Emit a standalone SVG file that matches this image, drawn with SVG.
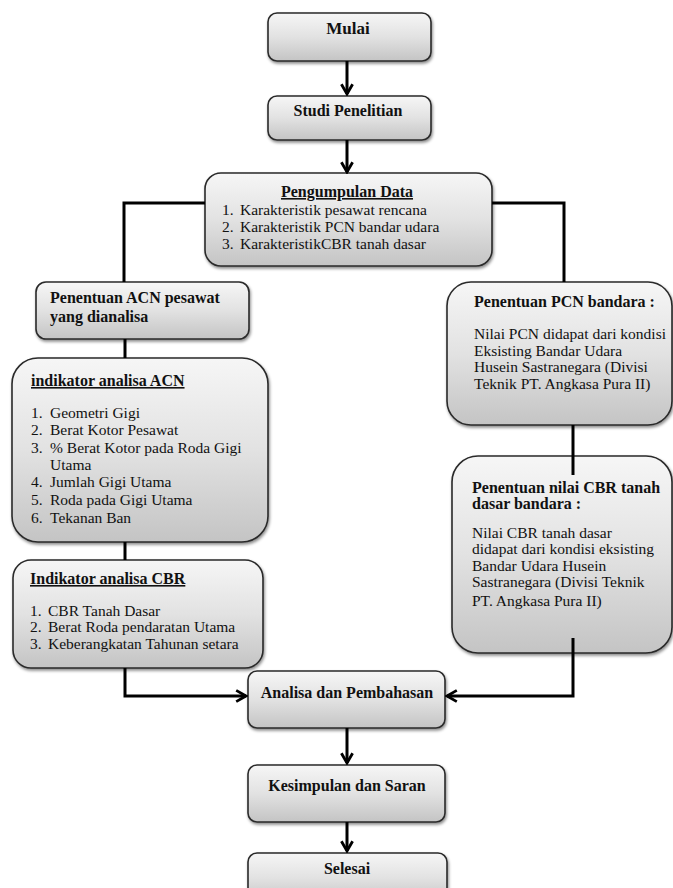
<svg xmlns="http://www.w3.org/2000/svg" width="673" height="888" viewBox="0 0 673 888">
<defs>
<linearGradient id="g" x1="0" y1="0" x2="0" y2="1">
<stop offset="0" stop-color="#f6f6f6"/>
<stop offset="0.5" stop-color="#e2e2e2"/>
<stop offset="1" stop-color="#c4c4c4"/>
</linearGradient>
<filter id="sh" x="-10%" y="-10%" width="120%" height="130%">
<feDropShadow dx="1" dy="2" stdDeviation="1.5" flood-color="#000" flood-opacity="0.45"/>
</filter>
<marker id="ah" viewBox="0 0 10 10" refX="8.5" refY="5" markerWidth="14" markerHeight="14" markerUnits="userSpaceOnUse" orient="auto">
<path d="M1.5,1 L8.5,5 L1.5,9" fill="none" stroke="#000" stroke-width="2"/>
</marker>
</defs>
<style>
.box{fill:url(#g);stroke:#2a2a2a;stroke-width:1.6;filter:url(#sh)}
.t{font-family:"Liberation Serif","Times New Roman",serif;font-size:15.5px;fill:#111}
.b{font-weight:bold;font-size:16px}
.c{text-anchor:middle}
.u{text-decoration:underline}
.ln{fill:none;stroke:#000;stroke-width:3}
</style>

<g id="mulai">
<rect class="box" x="268" y="13" width="163" height="48" rx="9"/>
<text class="t b c" x="348" y="34" style="font-size:17px">Mulai</text>
</g>
<g id="studi">
<rect class="box" x="268" y="96" width="163" height="44" rx="9"/>
<text class="t b c" x="348" y="116">Studi Penelitian</text>
</g>
<g id="pengumpulan">
<rect class="box" x="205" y="173" width="287" height="93" rx="16"/>
<text class="t b c u" x="347" y="197">Pengumpulan Data</text>
<text class="t" x="222" y="215">1.</text><text class="t" x="240" y="215">Karakteristik pesawat rencana</text>
<text class="t" x="222" y="232">2.</text><text class="t" x="240" y="232">Karakteristik PCN bandar udara</text>
<text class="t" x="222" y="249">3.</text><text class="t" x="240" y="249">KarakteristikCBR tanah dasar</text>
</g>
<g id="acn">
<rect class="box" x="36" y="282" width="213" height="57" rx="10"/>
<text class="t b" x="50" y="303">Penentuan ACN pesawat</text>
<text class="t b" x="50" y="322">yang dianalisa</text>
</g>
<g id="indikator-acn">
<rect class="box" x="12" y="358" width="256" height="184" rx="26"/>
<text class="t b u" x="31" y="386">indikator analisa ACN</text>
<text class="t" x="31" y="418">1.</text><text class="t" x="50" y="418">Geometri Gigi</text>
<text class="t" x="31" y="435">2.</text><text class="t" x="50" y="435">Berat Kotor Pesawat</text>
<text class="t" x="31" y="453">3.</text><text class="t" x="50" y="453">% Berat Kotor pada Roda Gigi</text>
<text class="t" x="50" y="470">Utama</text>
<text class="t" x="31" y="487">4.</text><text class="t" x="50" y="487">Jumlah Gigi Utama</text>
<text class="t" x="31" y="505">5.</text><text class="t" x="50" y="505">Roda pada Gigi Utama</text>
<text class="t" x="31" y="523">6.</text><text class="t" x="50" y="523">Tekanan Ban</text>
</g>
<g id="indikator-cbr">
<rect class="box" x="13" y="560" width="250" height="108" rx="18"/>
<text class="t b u" x="30" y="584">Indikator analisa CBR</text>
<text class="t" x="30" y="616">1.</text><text class="t" x="48" y="616">CBR Tanah Dasar</text>
<text class="t" x="30" y="632">2.</text><text class="t" x="48" y="632">Berat Roda pendaratan Utama</text>
<text class="t" x="30" y="649">3.</text><text class="t" x="48" y="649">Keberangkatan Tahunan setara</text>
</g>
<g id="pcn">
<rect class="box" x="447" y="282" width="225" height="143" rx="24"/>
<text class="t b" x="474" y="307">Penentuan PCN bandara :</text>
<text class="t" x="474" y="339">Nilai PCN didapat dari kondisi</text>
<text class="t" x="474" y="356">Eksisting Bandar Udara</text>
<text class="t" x="474" y="372">Husein Sastranegara (Divisi</text>
<text class="t" x="474" y="389">Teknik PT. Angkasa Pura II)</text>
</g>
<g id="cbr-bandara">
<rect class="box" x="452" y="456" width="220" height="197" rx="26"/>
<text class="t b" x="472" y="493">Penentuan nilai CBR tanah</text>
<text class="t b" x="472" y="509">dasar bandara :</text>
<text class="t" x="472" y="538">Nilai CBR tanah dasar</text>
<text class="t" x="472" y="554">didapat dari kondisi eksisting</text>
<text class="t" x="472" y="571">Bandar Udara Husein</text>
<text class="t" x="472" y="587">Sastranegara (Divisi Teknik</text>
<text class="t" x="472" y="606">PT. Angkasa Pura II)</text>
</g>
<g id="analisa">
<rect class="box" x="248" y="671" width="197" height="57" rx="9"/>
<text class="t b c" x="347" y="698">Analisa dan Pembahasan</text>
</g>
<g id="kesimpulan">
<rect class="box" x="248" y="765" width="197" height="57" rx="9"/>
<text class="t b c" x="347" y="791">Kesimpulan dan Saran</text>
</g>
<g id="selesai">
<rect class="box" x="248" y="853" width="199" height="50" rx="9"/>
<text class="t b c" x="347" y="874">Selesai</text>
</g>

<g id="connectors">
<line class="ln" x1="347" y1="61" x2="347" y2="94" marker-end="url(#ah)"/>
<line class="ln" x1="347" y1="140" x2="347" y2="172" marker-end="url(#ah)"/>
<polyline class="ln" points="205,203 124,203 124,282"/>
<polyline class="ln" points="492,203 564,203 564,282"/>
<line class="ln" x1="125" y1="339" x2="125" y2="358"/>
<line class="ln" x1="125" y1="542" x2="125" y2="560"/>
<line class="ln" x1="573" y1="425" x2="573" y2="475"/>
<polyline class="ln" points="125,668 125,696 246,696" marker-end="url(#ah)"/>
<polyline class="ln" points="573,638 573,696 447,696" marker-end="url(#ah)"/>
<line class="ln" x1="347" y1="728" x2="347" y2="763" marker-end="url(#ah)"/>
<line class="ln" x1="347" y1="822" x2="347" y2="851" marker-end="url(#ah)"/>
</g>
</svg>
